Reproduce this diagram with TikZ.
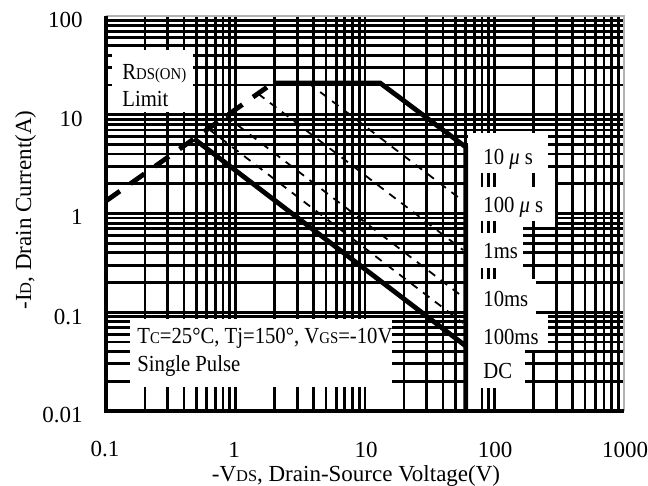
\documentclass[tikz,border=0pt]{standalone}
\usepackage{fontspec}
\setmainfont[FakeStretch=0.9]{Liberation Serif}
\newfontfamily\axfont{Liberation Serif}
\newcommand\smc[1]{{\fontsize{8.2bp}{9bp}\selectfont #1}}
\begin{document}
\begin{tikzpicture}[x=0.5bp,y=-0.5bp,
  grid/.style={line width=1.45bp,black},
  edge/.style={line width=1.1bp,gray!60},
  frame/.style={line width=1.6bp,black},
  curve/.style={line width=2.4bp,black,line join=miter},
  rdsline/.style={line width=2.4bp,dash pattern=on 8.5bp off 6.5bp},
  pulse/.style={line width=0.9bp,dash pattern=on 4bp off 3.5bp},
  mask/.style={fill=white,draw=none},
  lbl/.style={font=\fontsize{11.5bp}{13bp}\selectfont,inner sep=0pt},
  axl/.style={font=\axfont\fontsize{11.5bp}{13bp}\selectfont,inner sep=0pt},
]
\useasboundingbox (0,0) rectangle (648,486);
% horizontal grid lines
\begin{scope}[shift={(106,411)},x=64.75bp,y=49.375bp]
\foreach \d in {0,1,2,3}{\foreach \k in {1,...,9}{
  \pgfmathsetmacro\g{\d+log10(\k)}
  \draw[grid] (0,\g) -- (4,\g);
}}
\end{scope}
% masks of the label column (hide horizontal lines)
\path[mask] (468,133) rectangle (548,180);
\path[mask] (468,180) rectangle (555,227);
\path[mask] (468,227) rectangle (523,274);
\path[mask] (468,274) rectangle (536,314);
\path[mask] (468,314) rectangle (548,350);
\path[mask] (468,350) rectangle (525,388);
% vertical grid lines
\begin{scope}[shift={(106,411)},x=64.75bp,y=49.375bp]
\foreach \d in {0,1,2,3}{\foreach \k in {1,...,9}{
  \pgfmathsetmacro\g{\d+log10(\k)}
  \draw[grid] (\g,0) -- (\g,4);
}}
\end{scope}
% white label boxes
\path[mask] (112,50) rectangle (193,112);
\path[mask] (130,319) rectangle (392,387);
\path[mask] (468,133) rectangle (480,411);
\path[mask] (468,133) rectangle (548,173);
\path[mask] (468,187) rectangle (555,221);
\path[mask] (468,233) rectangle (523,268);
\path[mask] (468,279) rectangle (536,314);
\path[mask] (468,314) rectangle (548,350);
\path[mask] (468,350) rectangle (525,388);
% curves and frame
\begin{scope}[shift={(106,411)},x=64.75bp,y=49.375bp]
\coordinate (o) at (0,0);
\coordinate (tl) at (0,4);
\coordinate (tr) at (4,4);
\coordinate (br) at (4,0);
\draw[edge] (tl) -- (tr) -- (br);
\draw[frame] (tl) -- (o) -- (br);
\coordinate (r0) at (0,2.127);
\coordinate (r1) at (1.29,3.322);
\coordinate (t1) at (2.116,3.322);
\coordinate (t2) at (2.778,2.673);
\coordinate (t3) at (2.778,0);
\draw[rdsline] (r0) -- (r1);
\draw[curve] (r1) -- (t1) -- (t2) -- (t3);
\coordinate (dc0) at (0.680,2.756);
\coordinate (dc1) at (2.778,0.658);
\draw[curve] (dc0) -- (dc1);
\coordinate (a0) at (1.562,3.322);
\coordinate (a1) at (2.757,2.127);
\coordinate (b0) at (1.174,3.213);
\coordinate (b1) at (2.757,1.630);
\coordinate (c0) at (0.927,2.984);
\coordinate (c1) at (2.757,1.154);
\coordinate (e0) at (0.790,2.858);
\coordinate (e1) at (2.757,0.891);
\draw[pulse] (a0) -- (a1);
\draw[pulse] (b0) -- (b1);
\draw[pulse] (c0) -- (c1);
\draw[pulse] (e0) -- (e1);
\end{scope}
% tick labels
\node[axl,anchor=east] (y100) at (83,20) {100};
\node[axl,anchor=east] (y10) at (83,119) {10};
\node[axl,anchor=east] (y1) at (83,217) {1};
\node[axl,anchor=east] (y01) at (83,317) {0.1};
\node[axl,anchor=east] (y001) at (83,415) {0.01};
\node[axl] (x01) at (105,449.5) {0.1};
\node[axl] (x1) at (234,449.5) {1};
\node[axl] (x10) at (366,449.5) {10};
\node[axl] (x100) at (495,449.5) {100};
\node[axl] (x1000) at (625,449.5) {1000};
% axis titles
\node[axl,anchor=base] (xt) at (356,481) {-V\smc{DS}, Drain-Source Voltage(V)};
\node[axl,anchor=base,rotate=90] (yt) at (31,210) {-I\smc{D}, Drain Current(A)};
% in-plot labels
\node[lbl,anchor=base west] (rds) at (122,80) {R\smc{DS(ON)}};
\node[lbl,anchor=base west] (lim) at (122,107) {Limit};
\node[lbl,anchor=base west] (cond) at (137,343) {T\smc{C}=25\textdegree C, Tj=150\textdegree, V\smc{GS}=-10V};
\node[lbl,anchor=base west] (sp) at (137,372) {Single Pulse};
\node[lbl,anchor=base west] (l10us) at (483,165) {10 {\itshape μ} s};
\node[lbl,anchor=base west] (l100us) at (483,213) {100 {\itshape μ} s};
\node[lbl,anchor=base west] (l1ms) at (483,259) {1ms};
\node[lbl,anchor=base west] (l10ms) at (483,307) {10ms};
\node[lbl,anchor=base west] (l100ms) at (483,344) {100ms};
\node[lbl,anchor=base west] (ldc) at (483,379) {DC};
\end{tikzpicture}
\end{document}
